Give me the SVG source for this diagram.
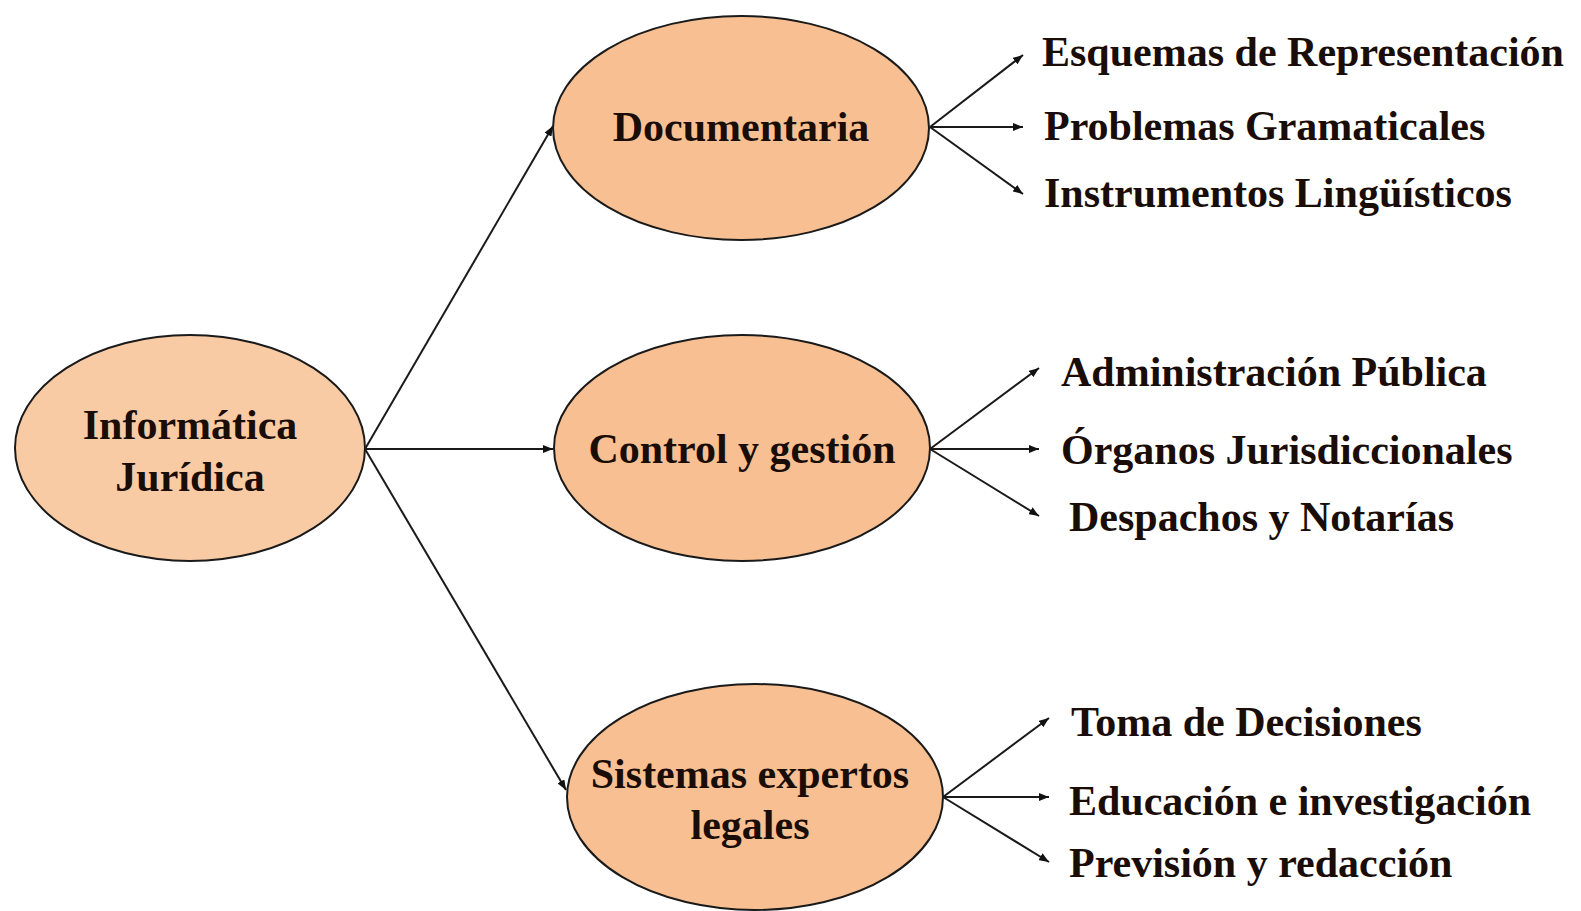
<svg xmlns="http://www.w3.org/2000/svg" width="1581" height="911" viewBox="0 0 1581 911">
<defs>
<marker id="ah" viewBox="0 0 10 8" refX="10" refY="4" markerWidth="10" markerHeight="8" markerUnits="userSpaceOnUse" orient="auto">
<path d="M0,0 L10,4 L0,8 Z" fill="#111"/>
</marker>
</defs>
<style>
.node{fill:#F8C092;stroke:#1a1a1a;stroke-width:2}
.root{fill:#F9CBA5}
.t{font-family:"Liberation Serif","Times New Roman",serif;font-weight:bold;font-size:42px;fill:#1a0d08}
.c{text-anchor:middle}
.e{stroke:#1a1a1a;stroke-width:2;fill:none;marker-end:url(#ah)}
</style>
<rect width="1581" height="911" fill="#ffffff"/>
<g id="connectors">
<line class="e" x1="365" y1="449" x2="553" y2="126"/>
<line class="e" x1="365" y1="449" x2="553" y2="449"/>
<line class="e" x1="365" y1="449" x2="566" y2="790"/>
<line class="e" x1="930" y1="127" x2="1023" y2="55"/>
<line class="e" x1="930" y1="127" x2="1023" y2="127"/>
<line class="e" x1="930" y1="127" x2="1023" y2="194"/>
<line class="e" x1="930" y1="449" x2="1039" y2="368"/>
<line class="e" x1="930" y1="449" x2="1039" y2="449"/>
<line class="e" x1="930" y1="449" x2="1039" y2="516"/>
<line class="e" x1="943" y1="797" x2="1049" y2="718"/>
<line class="e" x1="943" y1="797" x2="1049" y2="797"/>
<line class="e" x1="943" y1="797" x2="1049" y2="862"/>
</g>
<g id="informatica">
<ellipse class="node root" cx="190" cy="448" rx="175" ry="113"/>
<text class="t c" x="190" y="439">Informática</text>
<text class="t c" x="190" y="491">Jurídica</text>
</g>
<g id="documentaria">
<ellipse class="node" cx="741" cy="128" rx="188" ry="112"/>
<text class="t c" x="741" y="141">Documentaria</text>
</g>
<g id="control">
<ellipse class="node" cx="742" cy="448" rx="188" ry="113"/>
<text class="t c" x="742" y="463">Control y gestión</text>
</g>
<g id="sistemas">
<ellipse class="node" cx="755" cy="797" rx="188" ry="113"/>
<text class="t c" x="750" y="788">Sistemas expertos</text>
<text class="t c" x="750" y="839">legales</text>
</g>
<g id="doc-items">
<text class="t" x="1042" y="66">Esquemas de Representación</text>
<text class="t" x="1044" y="140">Problemas Gramaticales</text>
<text class="t" x="1044" y="207">Instrumentos Lingüísticos</text>
</g>
<g id="control-items">
<text class="t" x="1061" y="386">Administración Pública</text>
<text class="t" x="1061" y="464">Órganos Jurisdiccionales</text>
<text class="t" x="1069" y="531">Despachos y Notarías</text>
</g>
<g id="sistemas-items">
<text class="t" x="1071" y="736">Toma de Decisiones</text>
<text class="t" x="1069" y="815">Educación e investigación</text>
<text class="t" x="1069" y="877">Previsión y redacción</text>
</g>
</svg>
